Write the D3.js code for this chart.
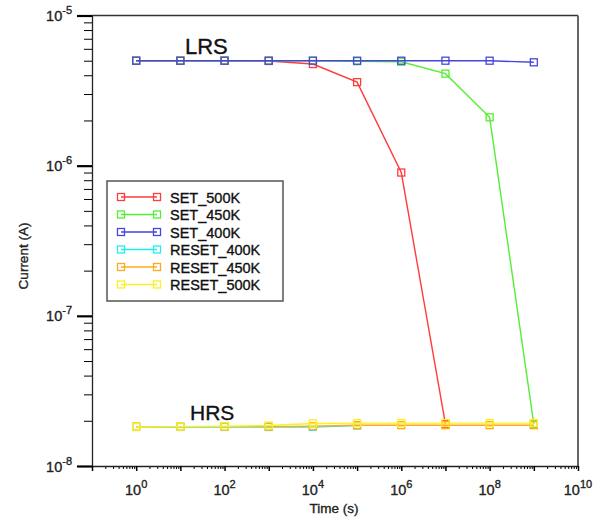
<!DOCTYPE html>
<html>
<head>
<meta charset="utf-8">
<script src="https://cdn.jsdelivr.net/npm/d3@7"></script>
<style>
  body { margin: 0; background: #fff; }
  svg { display: block; font-family: "Liberation Sans", Arial, sans-serif; }
  svg text { stroke: currentColor; stroke-width: 0.35px; }
</style>
</head>
<body>
<div id="chart"></div>
<script>
// time points (s)
const times = [1e0, 1e1, 1e2, 1e3, 1e4, 1e5, 1e6, 1e7, 1e8, 1e9];

// current values (A)
const set500 = [5.0e-6, 5.0e-6, 5.0e-6, 4.98e-6, 4.75e-6, 3.6e-6, 9.0e-7, 1.9e-8];
const set450 = [5.0e-6, 5.0e-6, 5.0e-6, 5.0e-6, 5.0e-6, 4.96e-6, 4.92e-6, 4.1e-6, 2.1e-6, 1.9e-8];
const set400 = [5.0e-6, 5.0e-6, 5.0e-6, 5.0e-6, 5.0e-6, 5.0e-6, 5.0e-6, 5.0e-6, 5.0e-6, 4.88e-6];
const reset400 = [1.82e-8, 1.82e-8, 1.82e-8, 1.82e-8, 1.82e-8, 1.86e-8];
const reset450 = [1.83e-8, 1.83e-8, 1.83e-8, 1.83e-8, 1.84e-8, 1.87e-8, 1.87e-8, 1.87e-8, 1.87e-8, 1.87e-8];
const reset500 = [1.82e-8, 1.83e-8, 1.84e-8, 1.86e-8, 1.92e-8, 1.93e-8, 1.93e-8, 1.93e-8, 1.93e-8, 1.93e-8];

const seriesNames = ["SET_500K", "SET_450K", "SET_400K", "RESET_400K", "RESET_450K", "RESET_500K"];
const seriesColors = ["#ff3b3b", "#55ee33", "#4646dc", "#22eeee", "#ffaa1a", "#ffee22"];
const seriesValues = [set500, set450, set400, reset400, reset450, reset500];

const xMajor = [1e-1, 1e0, 1e1, 1e2, 1e3, 1e4, 1e5, 1e6, 1e7, 1e8, 1e9, 1e10];
const xLabelExp = [0, 2, 4, 6, 8, 10];
const yMajor = [1e-8, 1e-7, 1e-6, 1e-5];
const yLabelExp = [-8, -7, -6, -5];

const W = 610, H = 521;
const rect = { left: 92, right: 578, top: 15.5, bottom: 466 };

const svg = d3.select("#chart").append("svg")
  .attr("width", W).attr("height", H);

// the original canvas cuts the last x label
svg.append("clipPath").attr("id", "page")
  .append("rect").attr("x", 0).attr("y", 0).attr("width", 593).attr("height", H);

const x = d3.scaleLog().domain([1e-1, 1e10]).range([rect.left, rect.right]);
const y = d3.scaleLog().domain([1e-8, 1e-5]).range([rect.bottom, rect.top]);

// minor ticks 2..9 per decade
function minors(lo, hi) {
  let out = [];
  for (let e = lo; e < hi; e++)
    for (let m = 2; m <= 9; m++) out.push(m * Math.pow(10, e));
  return out;
}

// frame (top + right)
svg.append("line").attr("x1", rect.left).attr("x2", rect.right)
  .attr("y1", rect.top).attr("y2", rect.top)
  .attr("stroke", "#333").attr("stroke-width", 1.5);
svg.append("line").attr("x1", rect.right).attr("x2", rect.right)
  .attr("y1", rect.top).attr("y2", rect.bottom)
  .attr("stroke", "#666").attr("stroke-width", 2);

// y axis
svg.append("g").attr("class", "y minor")
  .attr("transform", `translate(${rect.left},0)`)
  .call(d3.axisLeft(y).tickValues(minors(-8, -5)).tickFormat("").tickSize(8).tickSizeOuter(0))
  .call(g => g.select(".domain").remove());
svg.append("g").attr("class", "y axis")
  .attr("transform", `translate(${rect.left},0)`)
  .call(d3.axisLeft(y).tickValues(yMajor).tickFormat("").tickSize(15).tickSizeOuter(0))
  .call(g => g.selectAll(".tick line").attr("stroke-width", 2.2));
svg.selectAll(".y .domain").attr("stroke", "#222").attr("stroke-width", 1.3);

yLabelExp.forEach(e => {
  let t = svg.append("text")
    .attr("x", 72).attr("y", y(Math.pow(10, e)) + 5.5)
    .attr("text-anchor", "end").attr("font-size", 14.5).style("color", "#222").attr("fill", "#222");
  t.append("tspan").text("10");
  t.append("tspan").attr("font-size", 11).attr("dy", -7).text(e);
});

// x axis
svg.append("g").attr("class", "x minor")
  .attr("transform", `translate(0,${rect.bottom})`)
  .call(d3.axisBottom(x).tickValues(minors(-1, 10)).tickFormat("").tickSize(3).tickSizeOuter(0))
  .call(g => g.select(".domain").remove());
svg.append("g").attr("class", "x axis")
  .attr("transform", `translate(0,${rect.bottom})`)
  .call(d3.axisBottom(x).tickValues(xMajor).tickFormat("").tickSize(5).tickSizeOuter(0))
  .call(g => g.selectAll(".tick line").attr("stroke-width", 1.5));
svg.selectAll(".x .domain").attr("stroke", "#222").attr("stroke-width", 1.3);

xLabelExp.forEach(e => {
  let t = svg.append("text")
    .attr("clip-path", "url(#page)")
    .attr("x", x(Math.pow(10, e))).attr("y", 495)
    .attr("text-anchor", "middle").attr("font-size", 14.5).style("color", "#222").attr("fill", "#222");
  t.append("tspan").text("10");
  t.append("tspan").attr("font-size", 11).attr("dy", -7).text(e);
});

// axis titles
svg.append("text")
  .attr("transform", `translate(28,256) rotate(-90)`)
  .attr("text-anchor", "middle").attr("font-size", 13.5).style("color", "#222").attr("fill", "#222")
  .text("Current (A)");
svg.append("text")
  .attr("x", 334).attr("y", 513)
  .attr("text-anchor", "middle").attr("font-size", 13.5).style("color", "#222").attr("fill", "#222")
  .text("Time (s)");

// series
const line = d3.line().x(d => x(d[0])).y(d => y(d[1]));
const sq = 7;

seriesValues.forEach((vals, i) => {
  let pts = vals.map((v, k) => [times[k], v]);
  let g = svg.append("g").attr("class", "series");
  g.append("path").datum(pts)
    .attr("d", line)
    .attr("fill", "none")
    .attr("stroke", seriesColors[i])
    .attr("stroke-width", 1.4);
  g.selectAll("rect").data(pts).join("rect")
    .attr("x", d => x(d[0]) - sq / 2)
    .attr("y", d => y(d[1]) - sq / 2)
    .attr("width", sq).attr("height", sq)
    .attr("fill", "none")
    .attr("stroke", seriesColors[i])
    .attr("stroke-width", 1.3);
});

// annotations
svg.append("text").attr("x", 185).attr("y", 53.5)
  .attr("font-size", 22).style("color", "#111").attr("fill", "#111").text("LRS");
svg.append("text").attr("x", 190).attr("y", 419.5)
  .attr("font-size", 21).style("color", "#111").attr("fill", "#111").text("HRS");

// legend
const legend = svg.append("g").attr("class", "legend");
legend.append("rect")
  .attr("x", 107).attr("y", 181).attr("width", 176).attr("height", 120)
  .attr("fill", "#fff").attr("stroke", "#555").attr("stroke-width", 1.5);

seriesNames.forEach((name, i) => {
  let cy = 197 + i * 17.5;
  legend.append("line")
    .attr("x1", 121).attr("x2", 157).attr("y1", cy).attr("y2", cy)
    .attr("stroke", seriesColors[i]).attr("stroke-width", 1.4);
  [121, 157].forEach(cx => {
    legend.append("rect")
      .attr("x", cx - sq / 2).attr("y", cy - sq / 2)
      .attr("width", sq).attr("height", sq)
      .attr("fill", "none").attr("stroke", seriesColors[i]).attr("stroke-width", 1.3);
  });
  legend.append("text")
    .attr("x", 170).attr("y", cy + 5.5)
    .attr("font-size", 14.5).style("color", "#111").attr("fill", "#111")
    .text(name);
});
</script>
</body>
</html>
